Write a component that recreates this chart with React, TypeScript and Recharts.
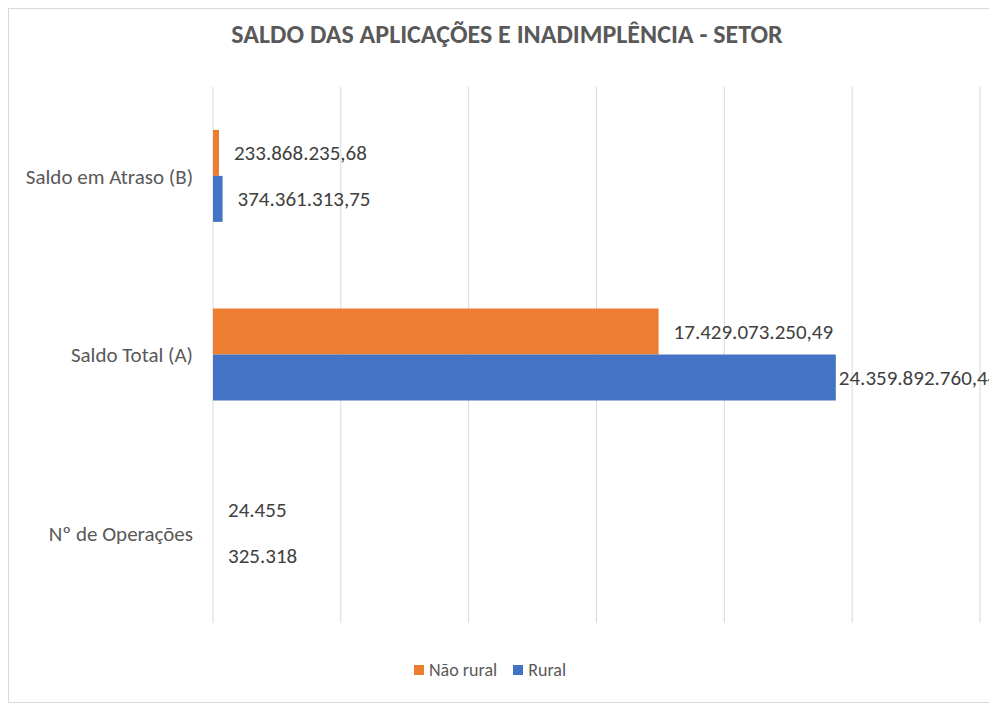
import React from 'react';
import {
  BarChart,
  Bar,
  XAxis,
  YAxis,
  CartesianGrid,
  Legend,
  LabelList,
} from 'recharts';

// categorias (de cima para baixo) e valores por setor
const categories = ['Saldo em Atraso (B)', 'Saldo Total (A)', 'Nº de Operações'];
const naoRural = [233868235.68, 17429073250.49, 24455];
const rural = [374361313.75, 24359892760.44, 325318];
const xTicks = [0, 5e9, 10e9, 15e9, 20e9, 25e9, 30e9];

const data = categories.map((name, i) => ({
  name,
  naoRural: naoRural[i],
  rural: rural[i],
}));

const FONT = 'Carlito, Calibri, Lato, sans-serif';
const CHART_W = 988;
const CHART_H = 693;

// formato pt-BR: 1.234.567,89
const fmtBR = (v: number, decimals: number) => {
  const [int, dec] = v.toFixed(decimals).split('.');
  const withDots = int.replace(/\B(?=(\d{3})+(?!\d))/g, '.');
  return dec ? `${withDots},${dec}` : withDots;
};

const ValueLabel = (props: any) => {
  const { x, y, width, height, value, index } = props;
  const text = fmtBR(Number(value), index === 2 ? 0 : 2);
  const end = Number(x) + Number(width);
  // rótulo muito longo perto da borda fica colado na barra
  const offset = end + 15 + text.length * 9.5 > CHART_W ? 3 : 15;
  return (
    <text
      x={end + offset}
      y={Number(y) + Number(height) / 2}
      dominantBaseline="central"
      fill="#404040"
      fontSize={21}
      fontFamily={FONT}
    >
      {text}
    </text>
  );
};

const LegendContent = (props: any) => {
  const { payload = [] } = props;
  return (
    <div style={{ display: 'flex', justifyContent: 'center', alignItems: 'center', gap: 16 }}>
      {payload.map((p: any) => (
        <div key={p.value} style={{ display: 'flex', alignItems: 'center', gap: 5 }}>
          <span style={{ width: 10, height: 10, background: p.color, display: 'inline-block' }} />
          <span style={{ color: '#595959', fontSize: 18, lineHeight: '22px' }}>{p.value}</span>
        </div>
      ))}
    </div>
  );
};

export default function App() {
  return (
    <div
      style={{
        position: 'relative',
        width: CHART_W,
        height: CHART_H,
        border: '1px solid #d9d9d9',
        background: '#fff',
        fontFamily: FONT,
      }}
    >
      <div
        style={{
          position: 'absolute',
          top: 10,
          left: 4,
          width: '100%',
          textAlign: 'center',
          fontSize: 26,
          lineHeight: '30px',
          fontWeight: 'bold',
          color: '#595959',
          zIndex: 2,
        }}
      >
        SALDO DAS APLICAÇÕES E INADIMPLÊNCIA - SETOR
      </div>
      <BarChart
        width={CHART_W}
        height={CHART_H}
        data={data}
        layout="vertical"
        margin={{ top: 78, right: 17, bottom: 49, left: 0 }}
        barCategoryGap="24%"
        barGap={0}
      >
        <CartesianGrid horizontal={false} stroke="#d9d9d9" />
        <XAxis type="number" domain={[0, 30e9]} ticks={xTicks} hide />
        <YAxis
          type="category"
          dataKey="name"
          width={204}
          axisLine={false}
          tickLine={false}
          tickSize={0}
          tickMargin={20}
          tick={{ fill: '#595959', fontSize: 21, fontFamily: FONT }}
        />
        <Legend
          verticalAlign="bottom"
          height={30}
          content={LegendContent}
          wrapperStyle={{ bottom: 13, left: 0, width: 962 }}
        />
        <Bar dataKey="naoRural" name="Não rural" fill="#ED7D31" isAnimationActive={false}>
          <LabelList dataKey="naoRural" content={ValueLabel} />
        </Bar>
        <Bar dataKey="rural" name="Rural" fill="#4472C4" isAnimationActive={false}>
          <LabelList dataKey="rural" content={ValueLabel} />
        </Bar>
      </BarChart>
    </div>
  );
}
